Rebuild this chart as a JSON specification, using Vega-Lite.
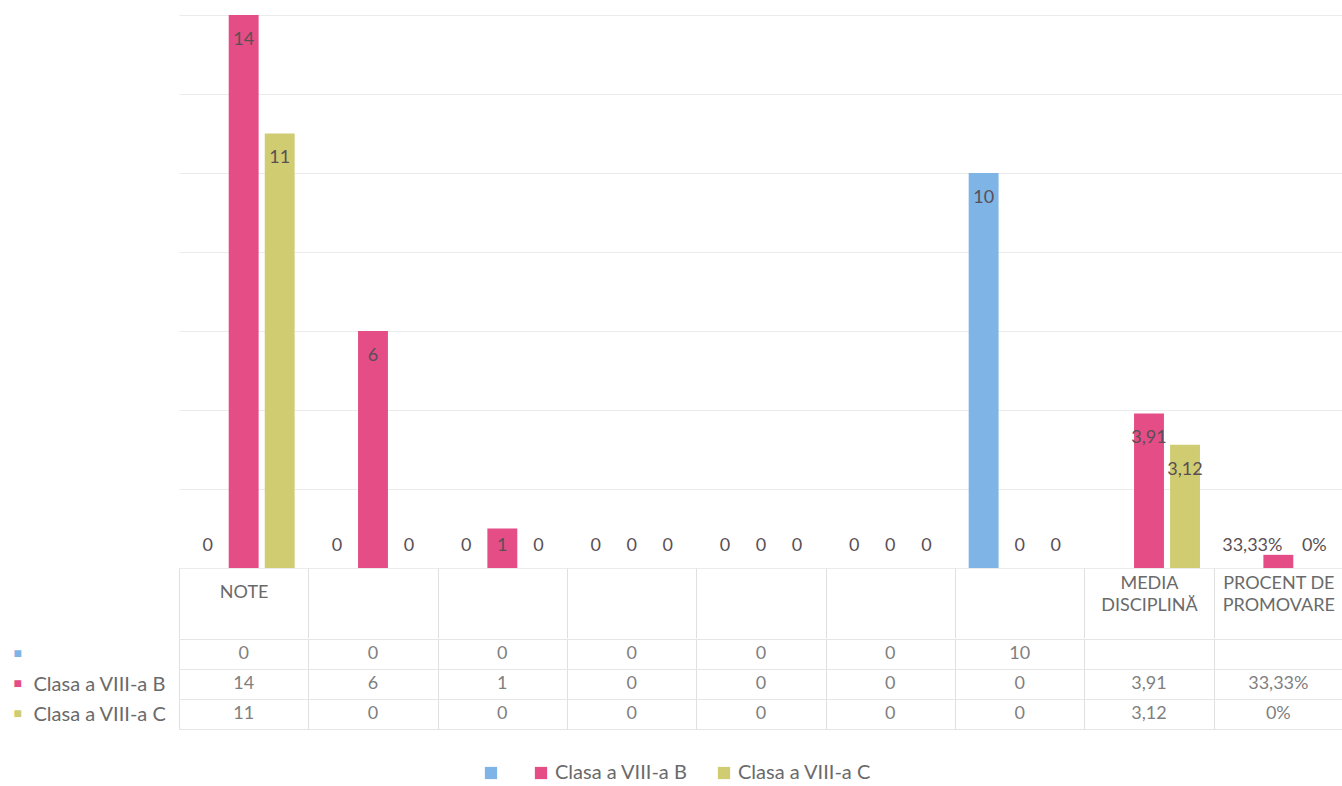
{
  "$schema": "https://vega.github.io/schema/vega-lite/v6.json",
  "padding": {"left": 0, "top": 15, "right": 0, "bottom": 0},
  "background": "white",
  "config": {
    "view": {"stroke": null},
    "concat": {"spacing": -11},
    "font": "Lato",
    "text": {"font": "Lato"}
  },
  "data": {
    "values": [
      {"cat": 1, "series": "A", "value": 0, "lbl": "0", "tbl": "0"},
      {"cat": 1, "series": "B", "value": 14, "lbl": "14", "tbl": "14"},
      {"cat": 1, "series": "C", "value": 11, "lbl": "11", "tbl": "11"},
      {"cat": 2, "series": "A", "value": 0, "lbl": "0", "tbl": "0"},
      {"cat": 2, "series": "B", "value": 6, "lbl": "6", "tbl": "6"},
      {"cat": 2, "series": "C", "value": 0, "lbl": "0", "tbl": "0"},
      {"cat": 3, "series": "A", "value": 0, "lbl": "0", "tbl": "0"},
      {"cat": 3, "series": "B", "value": 1, "lbl": "1", "tbl": "1"},
      {"cat": 3, "series": "C", "value": 0, "lbl": "0", "tbl": "0"},
      {"cat": 4, "series": "A", "value": 0, "lbl": "0", "tbl": "0"},
      {"cat": 4, "series": "B", "value": 0, "lbl": "0", "tbl": "0"},
      {"cat": 4, "series": "C", "value": 0, "lbl": "0", "tbl": "0"},
      {"cat": 5, "series": "A", "value": 0, "lbl": "0", "tbl": "0"},
      {"cat": 5, "series": "B", "value": 0, "lbl": "0", "tbl": "0"},
      {"cat": 5, "series": "C", "value": 0, "lbl": "0", "tbl": "0"},
      {"cat": 6, "series": "A", "value": 0, "lbl": "0", "tbl": "0"},
      {"cat": 6, "series": "B", "value": 0, "lbl": "0", "tbl": "0"},
      {"cat": 6, "series": "C", "value": 0, "lbl": "0", "tbl": "0"},
      {"cat": 7, "series": "A", "value": 10, "lbl": "10", "tbl": "10"},
      {"cat": 7, "series": "B", "value": 0, "lbl": "0", "tbl": "0"},
      {"cat": 7, "series": "C", "value": 0, "lbl": "0", "tbl": "0"},
      {"cat": 8, "series": "A", "value": null, "lbl": "", "tbl": ""},
      {"cat": 8, "series": "B", "value": 3.91, "lbl": "3,91", "tbl": "3,91"},
      {"cat": 8, "series": "C", "value": 3.12, "lbl": "3,12", "tbl": "3,12"},
      {"cat": 9, "series": "A", "value": null, "lbl": "", "tbl": ""},
      {"cat": 9, "series": "B", "value": 0.3333, "lbl": "33,33%", "tbl": "33,33%"},
      {"cat": 9, "series": "C", "value": 0, "lbl": "0%", "tbl": "0%"}
    ]
  },
  "vconcat": [
    {
      "width": 1164,
      "height": 553,
      "transform": [{"calculate": "max(datum.value - 0.63, 0.55)", "as": "labelY"}],
      "encoding": {
        "x": {
          "field": "cat", "type": "ordinal",
          "scale": {"type": "band", "paddingInner": 0, "paddingOuter": 0},
          "axis": {
            "title": null, "domain": false, "tickBand": "extent", "ticks": true,
            "tickSize": 70, "tickColor": "#e0e0e0",
            "labelPadding": {"condition": {"test": "datum.value >= 8", "value": -55}, "value": -46},
            "labelBaseline": "middle", "labelAngle": 0, "labelFontSize": 18,
            "labelColor": "#6a6a6a", "labelLineHeight": 22, "labelLimit": 200,
            "labelExpr": "datum.value == 1 ? 'NOTE' : datum.value == 8 ? ['MEDIA', 'DISCIPLINĂ'] : datum.value == 9 ? ['PROCENT DE', 'PROMOVARE'] : ''"
          }
        },
        "xOffset": {
          "field": "series", "type": "nominal",
          "scale": {"domain": ["A", "B", "C"], "paddingInner": 0.17, "paddingOuter": 0.38}
        }
      },
      "layer": [
        {
          "mark": {"type": "bar"},
          "encoding": {
            "y": {
              "field": "value", "type": "quantitative",
              "scale": {"domain": [0, 14], "nice": false},
              "axis": {
                "title": null, "domain": false, "ticks": false, "labels": false,
                "grid": true, "gridColor": "#ebebeb", "values": [0, 2, 4, 6, 8, 10, 12, 14],
                "minExtent": 178, "maxExtent": 178
              }
            },
            "color": {
              "field": "series", "type": "nominal",
              "scale": {"domain": ["A", "B", "C"], "range": ["#7fb4e6", "#e44d85", "#d0cc72"]},
              "legend": {
                "orient": "none", "legendX": 302, "legendY": 748, "direction": "horizontal",
                "title": null, "symbolType": "square", "symbolSize": 150,
                "labelFontSize": 20, "labelColor": "#6a6a6a", "columnPadding": 26, "labelOffset": 4,
                "labelLimit": 220,
                "labelExpr": "datum.value == 'B' ? 'Clasa a VIII-a B' : datum.value == 'C' ? 'Clasa a VIII-a C' : ''"
              }
            }
          }
        },
        {
          "transform": [{"filter": "!(datum.cat == 9 && datum.series == 'B')"}],
          "mark": {"type": "text", "fontSize": 18, "color": "#5a4f55", "baseline": "middle"},
          "encoding": {
            "y": {"field": "labelY", "type": "quantitative"},
            "text": {"field": "lbl"}
          }
        },
        {
          "transform": [{"filter": "datum.cat == 9 && datum.series == 'B'"}],
          "mark": {"type": "text", "fontSize": 18, "color": "#5a4f55", "baseline": "middle", "dx": -26},
          "encoding": {
            "y": {"field": "labelY", "type": "quantitative"},
            "text": {"field": "lbl"}
          }
        }
      ]
    },
    {
      "width": 1164,
      "height": 90,
      "view": {"stroke": "#e0e0e0"},
      "encoding": {
        "x": {
          "field": "cat", "type": "ordinal",
          "scale": {"type": "band", "paddingInner": 0, "paddingOuter": 0},
          "axis": {"title": null, "labels": false, "ticks": false, "domain": false, "grid": true, "tickBand": "extent", "gridColor": "#e0e0e0"}
        }
      },
      "layer": [
        {
          "mark": {"type": "text", "fontSize": 18, "color": "#7f7f7f"},
          "encoding": {
            "y": {
              "field": "series", "type": "nominal",
              "scale": {"domain": ["A", "B", "C"]},
              "axis": {
                "title": null, "domain": false, "ticks": false, "grid": true, "tickBand": "extent",
                "gridColor": "#e6e6e6", "labelAlign": "left", "labelPadding": 146,
                "labelFontSize": 20, "labelColor": "#6a6a6a", "labelLimit": 200,
                "labelExpr": "datum.value == 'B' ? 'Clasa a VIII-a B' : datum.value == 'C' ? 'Clasa a VIII-a C' : ''",
                "minExtent": 178, "maxExtent": 178
              }
            },
            "text": {"field": "tbl"}
          }
        },
        {
          "mark": {"type": "text", "opacity": 0},
          "encoding": {
            "y": {
              "field": "series", "type": "nominal",
              "scale": {"domain": ["A", "B", "C"]},
              "axis": {
                "orient": "left", "title": null, "domain": false, "ticks": false, "grid": false,
                "labelAlign": "left", "labelPadding": 166, "labelFontSize": 14,
                "labelExpr": "'■'",
                "labelColor": {"condition": [{"test": "datum.value == 'A'", "value": "#7fb4e6"}, {"test": "datum.value == 'B'", "value": "#e44d85"}], "value": "#d0cc72"},
                "minExtent": 178, "maxExtent": 178
              }
            },
            "text": {"field": "tbl"}
          }
        }
      ],
      "resolve": {"axis": {"y": "independent"}}
    }
  ]
}
